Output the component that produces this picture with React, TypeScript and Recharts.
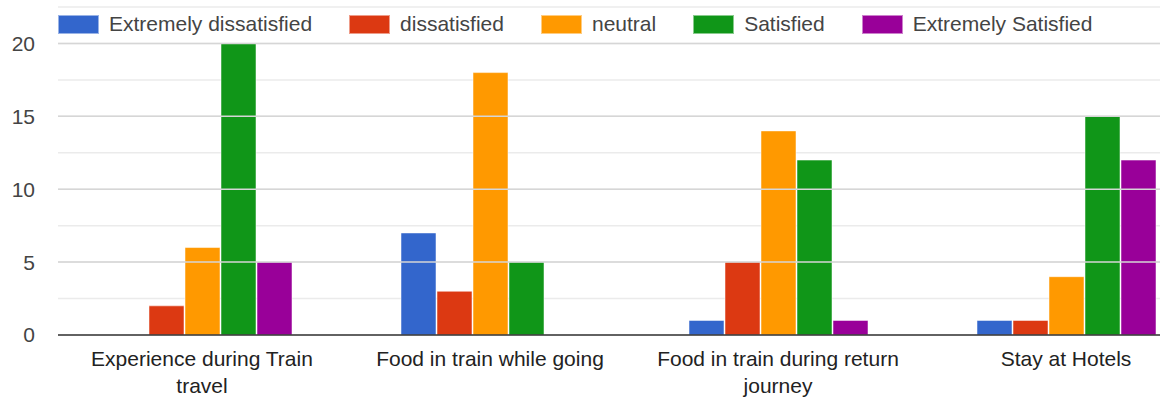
import React from 'react';
import {
  BarChart,
  Bar,
  XAxis,
  YAxis,
  CartesianGrid,
  ReferenceLine
} from 'recharts';

// tick labels, already broken into the lines shown under each group
const categoryLines = [
  ['Experience during Train', 'travel'],
  ['Food in train while going'],
  ['Food in train during return', 'journey'],
  ['Stay at Hotels']
];
const categories = categoryLines.map((l) => l.join(' '));

const seriesNames = ['Extremely dissatisfied', 'dissatisfied', 'neutral', 'Satisfied', 'Extremely Satisfied'];
const seriesColors = ['#3366cc', '#dc3912', '#ff9900', '#109618', '#990099'];

const extremelyDissatisfied = [0, 7, 1, 1];
const dissatisfied = [2, 3, 5, 1];
const neutral = [6, 18, 14, 4];
const satisfied = [20, 5, 12, 15];
const extremelySatisfied = [5, 0, 1, 12];

const yTicks = [0, 2.5, 5, 7.5, 10, 12.5, 15, 17.5, 20, 22.5];
const majorTicks = [5, 10, 15, 20];

const seriesValues = [extremelyDissatisfied, dissatisfied, neutral, satisfied, extremelySatisfied];
const keys = ['s0', 's1', 's2', 's3', 's4'];

const data = categories.map((name, i) => {
  const row: any = { name };
  keys.forEach((k, j) => {
    row[k] = seriesValues[j][i];
  });
  return row;
});

const FONT = '"Liberation Sans", Arial, sans-serif';

const XTick = (props: any) => {
  const { x, y, index } = props;
  const lines = categoryLines[index] || [props.payload.value];
  return (
    <text x={x} y={y} textAnchor="middle" fontSize={21} fontFamily={FONT} fill="#222">
      {lines.map((l, i) => (
        <tspan key={i} x={x} dy={i === 0 ? 15 : 27}>
          {l}
        </tspan>
      ))}
    </text>
  );
};

// legend drawn as an overlay so it doesn't eat into the plot area
const LegendBar = () => (
  <div
    style={{
      position: 'absolute',
      top: 12,
      left: 58,
      display: 'flex',
      alignItems: 'center',
      fontFamily: FONT,
      fontSize: 21,
      color: '#444'
    }}
  >
    {seriesNames.map((n, i) => (
      <div key={n} style={{ display: 'flex', alignItems: 'center', marginRight: 37 }}>
        <div
          style={{
            width: 41,
            height: 19,
            background: seriesColors[i],
            boxSizing: 'border-box',
            border: '1px solid rgba(255,255,255,0.5)',
            marginRight: 10
          }}
        />
        <span style={{ whiteSpace: 'nowrap' }}>{n}</span>
      </div>
    ))}
  </div>
);

export default function App() {
  return (
    <div
      style={{
        position: 'fixed',
        left: 0,
        top: 0,
        width: 1160,
        height: 403,
        overflow: 'hidden',
        background: '#fff'
      }}
    >
      <BarChart
        width={1210}
        height={403}
        data={data}
        margin={{ top: 7, right: 0, left: 0, bottom: 0 }}
        barGap={1}
      >
        <CartesianGrid vertical={false} stroke="#ebebeb" strokeWidth={1.5} />
        {majorTicks.map((t) => (
          <ReferenceLine key={t} y={t} stroke="#d6d6d6" strokeWidth={1.5} />
        ))}
        <XAxis
          dataKey="name"
          height={68}
          interval={0}
          tickLine={false}
          tickSize={0}
          tickMargin={16}
          axisLine={{ stroke: '#333', strokeWidth: 1.5 }}
          tick={<XTick />}
        />
        <YAxis
          width={58}
          domain={[0, 22.5]}
          ticks={yTicks}
          interval={0}
          tickLine={false}
          axisLine={false}
          tickSize={0}
          tickMargin={23}
          tickFormatter={(v: number) => (v % 5 === 0 ? String(v) : '')}
          tick={{ fontSize: 21, fontFamily: FONT, fill: '#444' }}
        />
        {keys.map((k, j) => (
          <Bar
            key={k}
            dataKey={k}
            name={seriesNames[j]}
            fill={seriesColors[j]}
            barSize={35}
            stroke="#ffffff"
            strokeOpacity={0.5}
            strokeWidth={1}
            isAnimationActive={false}
          />
        ))}
      </BarChart>
      <LegendBar />
    </div>
  );
}
